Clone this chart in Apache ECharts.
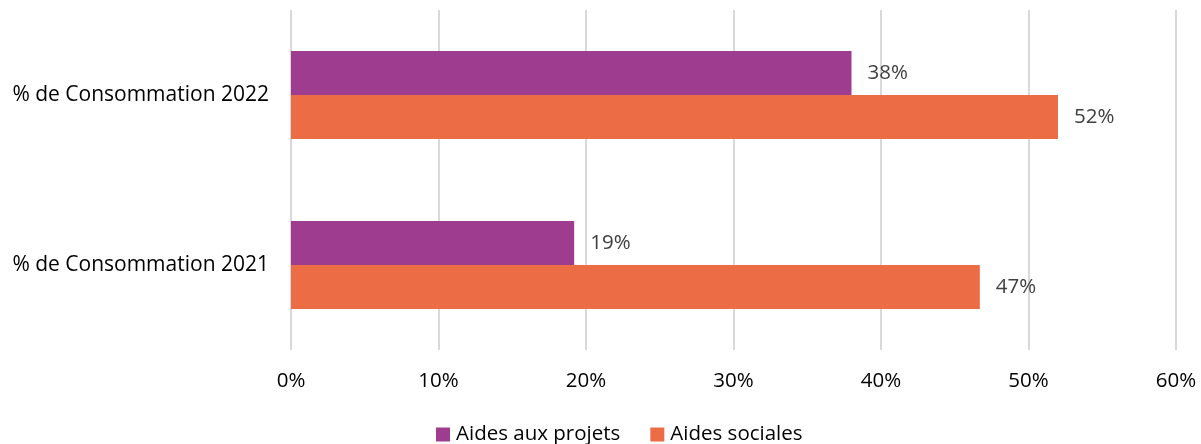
<!DOCTYPE html>
<html>
<head>
<meta charset="utf-8">
<script src="https://cdn.jsdelivr.net/npm/echarts@6/dist/echarts.min.js"></script>
<style>
  html, body { margin: 0; padding: 0; background: #fff; }
  #chart { width: 1201px; height: 444px; }
</style>
</head>
<body>
<div id="chart"></div>
<script>
const categories = ['% de Consommation 2021', '% de Consommation 2022']
const aidesProjets = [19.2, 38.0]
const aidesSociales = [46.7, 52.0]
const xTicks = { min: 0, max: 60, interval: 10 }

const font = '"Open Sans", "Liberation Sans", sans-serif'

let labelOpt = {
  show: true,
  position: 'right',
  distance: 16,
  fontSize: 20.5,
  color: '#404040',
  fontFamily: font,
  formatter: p => Math.round(p.value) + '%'
}

let myChart = echarts.init(document.getElementById('chart'))
myChart.setOption({
  animation: false,
  textStyle: { fontFamily: font },
  grid: { left: 291, right: 25, top: 10, bottom: 94 },
  legend: {
    data: ['Aides aux projets', 'Aides sociales'],
    left: 431,
    top: 419,
    itemWidth: 14,
    itemHeight: 14,
    itemGap: 30,
    icon: 'rect',
    textStyle: { fontSize: 20.5, color: '#000', fontFamily: font, padding: [0, 0, 0, 1] }
  },
  xAxis: {
    type: 'value',
    min: xTicks.min,
    max: xTicks.max,
    interval: xTicks.interval,
    axisLine: { show: false },
    axisTick: { show: false },
    axisLabel: {
      formatter: '{value}%',
      fontSize: 20.5,
      color: '#000',
      margin: 21,
      fontFamily: font
    },
    splitLine: { show: true, lineStyle: { color: '#d9d9d9', width: 2 } }
  },
  yAxis: {
    type: 'category',
    data: categories,
    axisLine: { show: false },
    axisTick: { show: false },
    axisLabel: { fontSize: 21, color: '#000', margin: 22, fontFamily: font }
  },
  series: [
    {
      name: 'Aides aux projets',
      type: 'bar',
      color: '#9e3d8f',
      barWidth: 44,
      barGap: '0%',
      data: aidesProjets,
      label: labelOpt
    },
    {
      name: 'Aides sociales',
      type: 'bar',
      color: '#ec6d45',
      barWidth: 44,
      barGap: '0%',
      data: aidesSociales,
      label: labelOpt
    }
  ]
})
</script>
</body>
</html>
